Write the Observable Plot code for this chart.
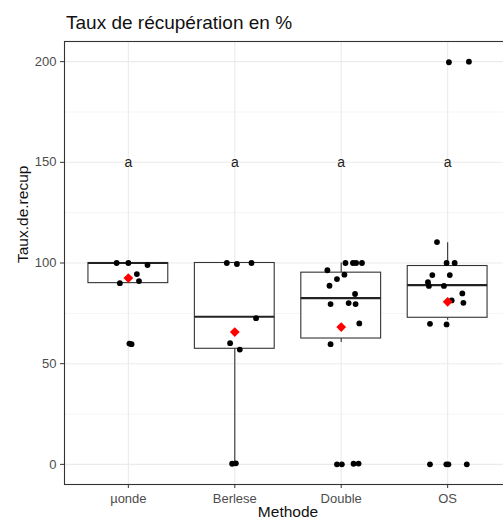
<!DOCTYPE html>
<html><head><meta charset="utf-8">
<script src="https://cdn.jsdelivr.net/npm/d3@7"></script>
<script src="https://cdn.jsdelivr.net/npm/@observablehq/plot@0.6"></script>
<style>
body{margin:0;background:#fff;}
#wrap{position:relative;width:503px;height:519px;overflow:hidden;font-family:"Liberation Sans",Arial,sans-serif;background:#fff;}
#title{position:absolute;left:66px;top:13px;font-size:19px;line-height:19px;color:#111;white-space:nowrap;}
#edge{position:absolute;left:-21px;top:43px;width:24px;height:343px;box-sizing:border-box;border:1px solid #666;}
#chart{position:absolute;left:0;top:35px;}
#chart svg{max-width:none !important;}
</style></head>
<body><div id="wrap"><div id="title">Taux de récupération en %</div><div id="edge"></div><div id="chart"></div></div>
<script>
// categories
const methods = ["µonde", "Berlese", "Double", "OS"];
const valsMonde = [100, 100, 99, 94.5, 90, 91, 60, 59.7];
const jitMonde  = [-0.11, 0, 0.18, 0.08, -0.08, 0.1, 0.01, 0.03];
const valsBerlese = [100, 99.5, 100, 72.6, 60.2, 57, 0.3, 0.5];
const jitBerlese  = [-0.075, 0.02, 0.157, 0.2, -0.044, 0.047, -0.025, 0.01];
const valsDouble = [96.4, 100, 100, 100, 100, 94.2, 92, 88.7, 84.6, 79.6, 80.1, 79.6, 70, 59.7, 0, 0, 0.3, 0.4];
const jitDouble  = [-0.13, 0.04, 0.11, 0.14, 0.195, 0.03, -0.04, -0.11, 0.13, -0.1, 0.07, 0.135, 0.17, -0.1, -0.04, 0.006, 0.116, 0.163];
const valsOS = [199.7, 200, 110.4, 100, 100, 94, 94, 90.5, 88.6, 88.6, 81.4, 84.9, 80.2, 69.8, 69.5, 0, 0, 0, 0];
const jitOS  = [0.012, 0.2, -0.1, -0.01, 0.066, -0.144, 0.02, -0.185, -0.176, -0.035, 0.038, 0.138, 0.148, -0.166, -0.01, -0.166, -0.012, 0.007, 0.18];
// box statistics
const whiskerLow  = [90, 0, 60.5, 71.6];
const q1          = [90, 57.4, 62.5, 72.8];
const median      = [100, 73.3, 82.6, 89];
const q3          = [100, 100, 95.2, 98.5];
const whiskerHigh = [100, 100, 100, 110];
const means       = [92.5, 65.7, 68.2, 80.7];
// significance letters
const letters = ["a", "a", "a", "a"];
const letterY = [150, 150, 150, 150];
// axis ticks
const yTicks = [0, 50, 100, 150, 200];
const yMinor = [25, 75, 125, 175];

const groups = [[valsMonde, jitMonde], [valsBerlese, jitBerlese], [valsDouble, jitDouble], [valsOS, jitOS]];
const points = groups.flatMap(([v, j], i) => v.map((y, k) => ({i, y, j: j[k]})));
const stats = methods.map((m, i) => ({m, i, lo: whiskerLow[i], q1: q1[i], med: median[i], q3: q3[i], hi: whiskerHigh[i], mean: means[i], letter: letters[i], ly: letterY[i]}));
const half = 0.375;

const chart = Plot.plot({
  width: 520, height: 484,
  marginTop: 6, marginLeft: 64, marginRight: 9, marginBottom: 35,
  style: {fontFamily: "'Liberation Sans', Arial, sans-serif", background: "white", maxWidth: "none", overflow: "visible"},
  x: {domain: [-0.6, 3.6]},
  y: {domain: [-10, 210]},
  marks: [
    Plot.gridY(yMinor, {stroke: "#ebebeb", strokeOpacity: 1, strokeWidth: 0.55}),
    Plot.gridY(yTicks, {stroke: "#ebebeb", strokeOpacity: 1, strokeWidth: 1.1}),
    Plot.gridX([0, 1, 2, 3], {stroke: "#ebebeb", strokeOpacity: 1, strokeWidth: 1.1}),
    Plot.ruleX(stats, {x: "i", y1: "q3", y2: "hi", stroke: "#333", strokeWidth: 1.1}),
    Plot.ruleX(stats, {x: "i", y1: "lo", y2: "q1", stroke: "#333", strokeWidth: 1.1}),
    Plot.rect(stats, {x1: d => d.i - half, x2: d => d.i + half, y1: "q1", y2: "q3", fill: "white", stroke: "#333", strokeWidth: 1.1}),
    Plot.ruleY(stats, {y: "med", x1: d => d.i - half, x2: d => d.i + half, stroke: "#222", strokeWidth: 2.2}),
    Plot.dot(points, {x: d => d.i + d.j, y: "y", r: 2.9, fill: "black", stroke: null}),
    Plot.dot(stats, {x: "i", y: "mean", symbol: "diamond2", r: 4.4, fill: "red", stroke: null}),
    Plot.text(stats, {x: "i", y: "ly", text: "letter", fontSize: 14, fill: "#222"}),
    Plot.frame({stroke: "#333", strokeWidth: 1.1}),
    Plot.axisY(yTicks, {tickSize: 4, tickPadding: 4, stroke: "#333", fill: "#4d4d4d", fontSize: 13, label: null}),
    Plot.axisX([0, 1, 2, 3], {tickFormat: i => methods[i], tickSize: 4, tickPadding: 5, stroke: "#333", fill: "#4d4d4d", fontSize: 13, label: null}),
    Plot.text(["Taux.de.recup"], {frameAnchor: "left", dx: -41, rotate: -90, fontSize: 15.5, fill: "#111"}),
    Plot.text(["Methode"], {frameAnchor: "bottom", dy: 21, lineAnchor: "top", fontSize: 15.5, fill: "#111"})
  ]
});
document.getElementById("chart").append(chart);
</script>
</body></html>
